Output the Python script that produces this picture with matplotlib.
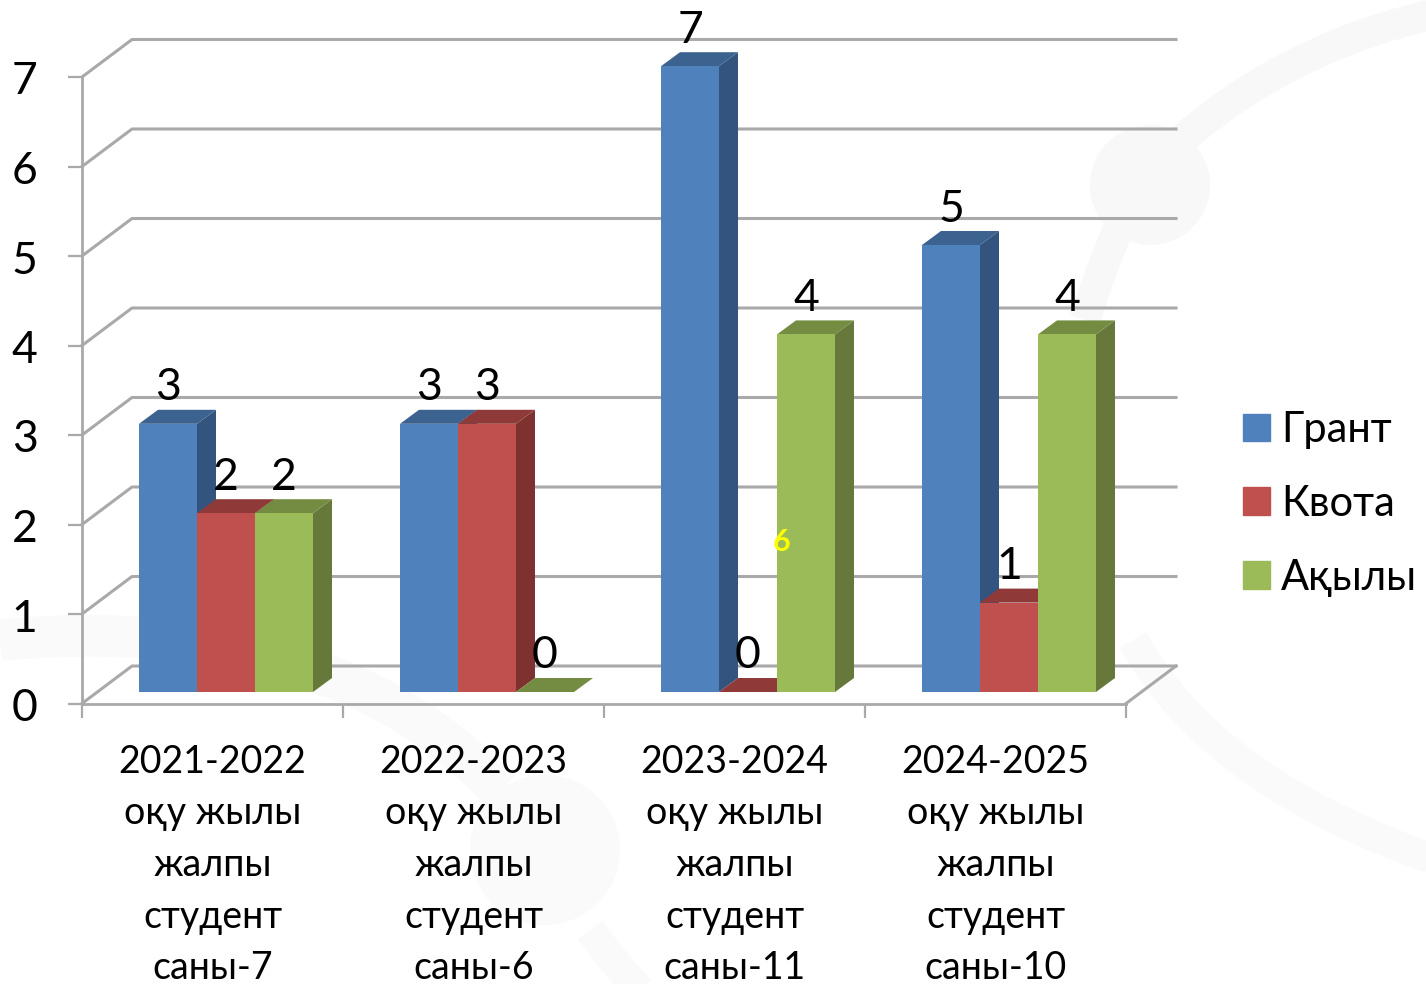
import matplotlib
matplotlib.use("Agg")
import matplotlib.pyplot as plt
from matplotlib.patches import Polygon, Circle, Patch, PathPatch
from matplotlib.path import Path
from matplotlib.transforms import ScaledTranslation

plt.rcParams['font.family'] = ['Lato', 'Open Sans', 'DejaVu Sans']

categories = ["2021-2022\nоқу жылы\nжалпы\nстудент\nсаны-7",
              "2022-2023\nоқу жылы\nжалпы\nстудент\nсаны-6",
              "2023-2024\nоқу жылы\nжалпы\nстудент\nсаны-11",
              "2024-2025\nоқу жылы\nжалпы\nстудент\nсаны-10"]
series_names = ["Грант", "Квота", "Ақылы"]
grant = [3, 3, 7, 5]
kvota = [2, 3, 0, 1]
akyly = [2, 0, 4, 4]
yticks = [0, 1, 2, 3, 4, 5, 6, 7]

front = ["#4F81BD", "#C0504D", "#9BBB59"]
top = ["#3C628F", "#8F3A38", "#748C42"]
side = ["#32547F", "#7D3230", "#66783A"]
grid_col = "#a9a9a9"

W, H = 1426, 984
PX_X = 261.0   # pixels per category
PX_Y = 89.5    # pixels per unit

fig = plt.figure(figsize=(W / 100, H / 100), dpi=100)

# faint watermark behind the chart
bg = fig.add_axes([0, 0, 1, 1], zorder=-1)
bg.set_xlim(0, W)
bg.set_ylim(H, 0)
bg.axis("off")
wm = "#f8f8f8"
def swoosh(pts, lw, col=wm):
    codes = [Path.MOVETO] + [Path.CURVE3] * (len(pts) - 1)
    bg.add_patch(PathPatch(Path(pts, codes), fc="none", ec=col, lw=lw, capstyle="butt"))
swoosh([(1170, 150), (1280, 50), (1430, 15)], 22)
swoosh([(1120, 225), (1100, 270), (1085, 320)], 22)
swoosh([(1133, 640), (1210, 780), (1430, 858)], 22, "#fafafa")
swoosh([(0, 640), (330, 610), (500, 790)], 30, "#fafafa")
swoosh([(590, 930), (615, 965), (640, 990)], 22, "#fafafa")
bg.add_patch(Circle((1150, 185), 60, fc=wm, ec="none"))
bg.add_patch(Circle((545, 850), 75, fc="#fafafa", ec="none"))

ax = fig.add_axes([82 / W, 1 - 703.5 / H, 1044 / W, 7 * PX_Y / H])
ax.patch.set_alpha(0)
ax.set_xlim(0, 4)
ax.set_ylim(0, 7)

# wall depth and bar depth, in data units
wall_dx, wall_dy = 50 / PX_X, 37.5 / PX_Y
bar_dx, bar_dy = 19 / PX_X, 14 / PX_Y
lift = 11.5 / PX_Y
start = 57 / PX_X
width = 58 / PX_X

for v in yticks:
    ax.plot([0, wall_dx, 4 + wall_dx], [v, v + wall_dy, v + wall_dy], color=grid_col,
            lw=2.2, clip_on=False, zorder=1, solid_joinstyle="round")
ax.plot([4, 4 + wall_dx], [0, wall_dy], color=grid_col, lw=2.2, clip_on=False, zorder=1)

values = [grant, kvota, akyly]
for g in range(len(categories)):
    for s in range(len(values)):
        v = values[s][g]
        x0 = g + start + s * width
        x1 = x0 + width
        y0 = lift
        y1 = lift + v * (89.4 / PX_Y)
        ax.add_patch(Polygon([(x1, y0), (x1 + bar_dx, y0 + bar_dy), (x1 + bar_dx, y1 + bar_dy), (x1, y1)],
                             fc=side[s], ec="none", clip_on=False, zorder=3))
        ax.add_patch(Polygon([(x0, y1), (x1, y1), (x1 + bar_dx, y1 + bar_dy), (x0 + bar_dx, y1 + bar_dy)],
                             fc=top[s], ec="none", clip_on=False, zorder=3))
        if v > 0:
            ax.bar(x0, y1 - y0, width, bottom=y0, align="edge", color=front[s], zorder=3, clip_on=False)
        ax.text(x0 + width / 2, y1 + 36 / PX_Y, str(v), ha="center", va="center",
                fontsize=32, color="black", zorder=5, clip_on=False)

ax.text(2.68, 1.80, "6", color="#FFFF00", fontsize=22, fontweight="bold",
        ha="center", va="center", zorder=5)

for name in ["top", "right"]:
    ax.spines[name].set_visible(False)
for name in ["left", "bottom"]:
    ax.spines[name].set_color(grid_col)
    ax.spines[name].set_linewidth(2)
ax.set_yticks(yticks)
ax.set_xticks([0, 1, 2, 3, 4])
ax.set_xticklabels([])
ax.set_xticks([0.5, 1.5, 2.5, 3.5], labels=categories, minor=True)
ax.tick_params(axis="y", length=10, width=1.6, color=grid_col, pad=22, labelsize=32)
ax.tick_params(axis="x", which="major", length=10, width=1.6, color=grid_col)
ax.tick_params(axis="x", which="minor", length=0, pad=29, labelsize=27)
for lab in ax.get_xticklabels(minor=True):
    lab.set_linespacing(1.54)
for lab in ax.get_yticklabels():
    lab.set_transform(lab.get_transform() + ScaledTranslation(0, -1 / 100, fig.dpi_scale_trans))

handles = [Patch(color=c, label=n) for c, n in zip(front, series_names)]
ax.legend(handles=handles, loc="center left", bbox_to_anchor=(1161 / 1044, (703.5 - 504) / (7 * PX_Y)),
          frameon=False, fontsize=30, handlelength=0.65, handleheight=0.65,
          handletextpad=0.27, labelspacing=0.86, borderaxespad=0, borderpad=0)

fig.savefig("out.png", dpi=100)
